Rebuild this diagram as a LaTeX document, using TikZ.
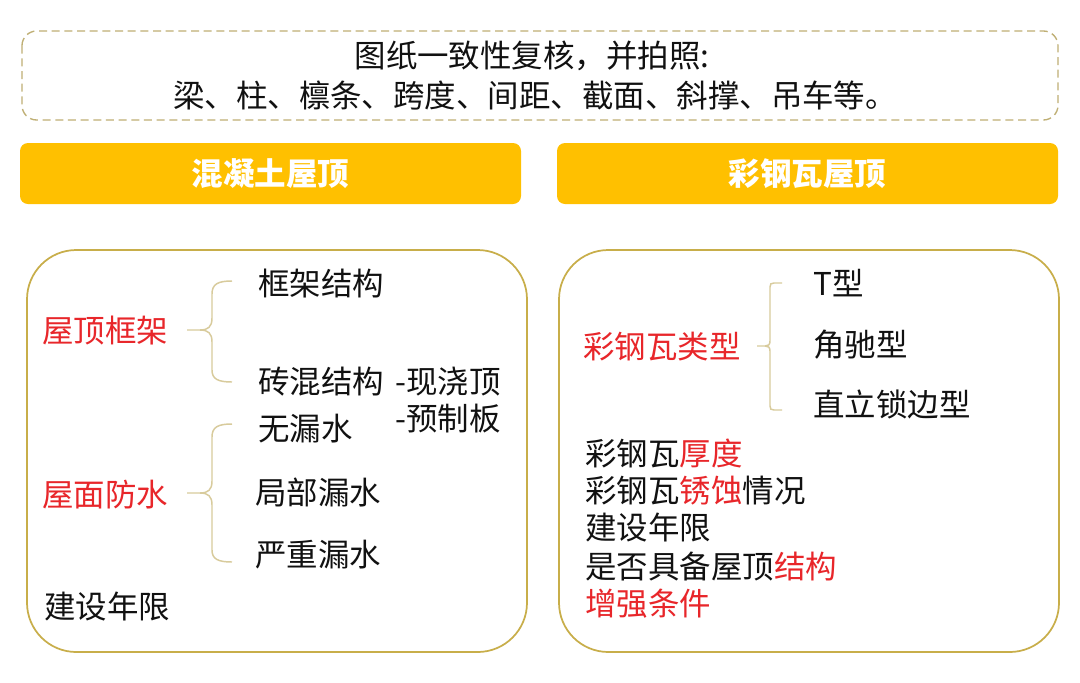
\documentclass[tikz,border=0pt]{standalone}
\usepackage{fontspec}
\setmainfont{Noto Sans CJK SC}
\definecolor{hdrfill}{HTML}{FFC000}
\definecolor{boxline}{HTML}{C8AE4A}
\definecolor{dashline}{HTML}{BFAF74}
\definecolor{braceline}{HTML}{D8CB9C}
\definecolor{myred}{HTML}{E8262A}
\definecolor{txtblack}{HTML}{111111}
\begin{document}
\begin{tikzpicture}[x=0.75pt,y=-0.75pt,
  every node/.style={inner sep=0pt, text=txtblack, font=\fontsize{23.6}{28}\selectfont},
  txt/.style={anchor=base west},
  redtxt/.style={anchor=base west, text=myred},
  hdr/.style={fill=hdrfill, rounded corners=6pt, minimum width=375.75pt, minimum height=45.75pt, text=white, font=\fontsize{23.6}{28}\selectfont\bfseries},
  bigbox/.style={draw=boxline, line width=1.3pt, rounded corners=37pt},
  dashbox/.style={draw=dashline, line width=1pt, dashed, dash pattern=on 6pt off 3.5pt, rounded corners=11pt},
  bracel/.style={draw=braceline, line width=1.1pt}]
\useasboundingbox[fill=white] (0,0) rectangle (1080,682);

% top dashed box
\draw[dashbox] (22,31) rectangle (1058,120);
\node[anchor=base] (t1) at (532,67) {图纸一致性复核，并拍照:};
\node[anchor=base] (t2) at (535,107) {梁、柱、檩条、跨度、间距、截面、斜撑、吊车等。};

% headers
\node[hdr] (h1) at (270.5,173.5) {混凝土屋顶};
\node[hdr] (h2) at (807.5,173.5) {彩钢瓦屋顶};

% big boxes
\draw[bigbox] (27,250) rectangle (527,652);
\draw[bigbox] (559,250) rectangle (1059,652);

% left content
\node[redtxt] (l1) at (42,342) {屋顶框架};
\node[txt] (l1a) at (258,295) {框架结构};
\node[txt] (l1b) at (258,393) {砖混结构};
\node[txt] (l1c) at (395,393) {-现浇顶};
\node[txt] (l1d) at (395,430) {-预制板};
\node[redtxt] (l2) at (42,506) {屋面防水};
\node[txt] (l2a) at (258,440) {无漏水};
\node[txt] (l2b) at (255,504) {局部漏水};
\node[txt] (l2c) at (255,566) {严重漏水};
\node[txt] (l3) at (44,618) {建设年限};

% left braces
\draw[bracel] (232,281) .. controls (218,281) and (212,284) .. (212,294) -- (212,318)
  .. controls (212,327) and (208,330) .. (200,330) -- (187,330);
\draw[bracel] (200,330) .. controls (208,330) and (212,333) .. (212,342) -- (212,370)
  .. controls (212,379) and (218,382) .. (232,382);
\draw[bracel] (232,424) .. controls (218,424) and (212,427) .. (212,437) -- (212,481)
  .. controls (212,490) and (208,493) .. (200,493) -- (187,493);
\draw[bracel] (200,493) .. controls (208,493) and (212,496) .. (212,505) -- (212,550)
  .. controls (212,559) and (218,562) .. (232,562);

% right content
\node[redtxt] (r1) at (583,358) {彩钢瓦类型};
\node[txt] (r1a) at (813,295) {T型};
\node[txt] (r1b) at (813,356) {角驰型};
\node[txt] (r1c) at (813,416) {直立锁边型};
\node[txt] (r2) at (585,465) {彩钢瓦\textcolor{myred}{厚度}};
\node[txt] (r3) at (585,502) {彩钢瓦\textcolor{myred}{锈蚀}情况};
\node[txt] (r4) at (585,539) {建设年限};
\node[txt] (r5) at (585,578) {是否具备屋顶\textcolor{myred}{结构}};
\node[redtxt] (r6) at (585,615) {增强条件};

% right brace
\draw[bracel] (782,283) -- (774,283) .. controls (771,283) and (770,284) .. (770,287) -- (770,341)
  .. controls (770,345) and (768,346) .. (765,346) -- (757,346);
\draw[bracel] (765,346) .. controls (768,346) and (770,347) .. (770,351) -- (770,406)
  .. controls (770,409) and (771,410) .. (774,410) -- (782,410);
\end{tikzpicture}
\end{document}
